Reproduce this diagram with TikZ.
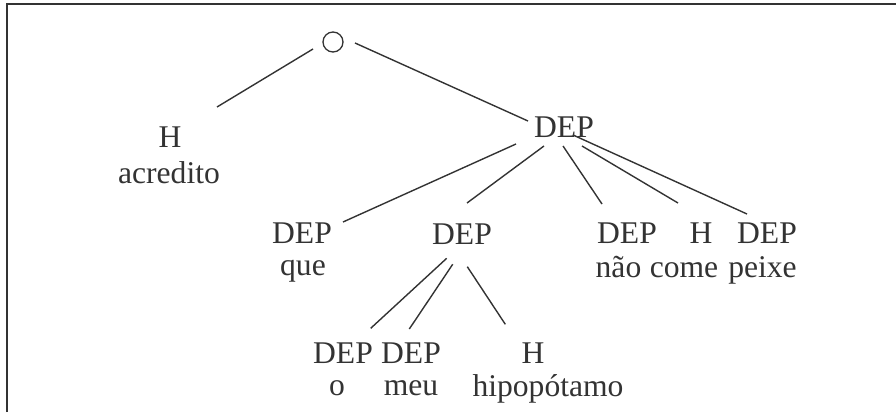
\documentclass[tikz,border=0pt]{standalone}
\usepackage{fontspec}
\setmainfont{Liberation Serif}
\definecolor{ink}{HTML}{333333}
\begin{document}
\begin{tikzpicture}[x=1pt,y=-1pt,
  lab/.style={inner sep=0pt,anchor=base,text=ink,font=\fontsize{31.6}{36}\selectfont},
  edge/.style={draw=ink,line width=1.4pt},
  frame/.style={draw=ink,line width=1.7pt}]
\useasboundingbox (0,0) rectangle (896,412);
% frame
\draw[frame] (6.7,412) -- (6.7,4) -- (896,4);
% root
\node[circle,inner sep=0pt,minimum size=20pt] (root) at (333,42) {};
\draw[ink,line width=1.3pt] (root.center) circle (10);
% labels
\node[lab] (h1) at (170,147) {H};
\node[lab] (acredito) at (169,183) {acredito};
\node[lab] (topdep) at (564,137) {DEP};
\node[lab] (depque) at (302,243) {DEP};
\node[lab] (que) at (303,275) {que};
\node[lab] (middep) at (462,244) {DEP};
\node[lab] (depnao) at (627,243) {DEP};
\node[lab] (hcome) at (701,243) {H};
\node[lab] (deppeixe) at (767,243) {DEP};
\node[lab] (nao) at (618.5,277) {não};
\node[lab] (come) at (684,277) {come};
\node[lab] (peixe) at (762.5,277) {peixe};
\node[lab] (depo) at (343,363) {DEP};
\node[lab] (depmeu) at (411,363) {DEP};
\node[lab] (hhipo) at (533,363) {H};
\node[lab] (o) at (337,395) {o};
\node[lab] (meu) at (411,395) {meu};
\node[lab] (hipo) at (548,396) {hipopótamo};
% connectors
\draw[edge] ([shift={(-20,7)}]root.center) -- ([shift={(47,-40)}]h1.base);
\draw[edge] ([shift={(22,1)}]root.center) -- ([shift={(-36,-16)}]topdep.base);
\draw[edge] ([shift={(-48,7)}]topdep.base) -- ([shift={(41,-21)}]depque.base);
\draw[edge] ([shift={(-20,9)}]topdep.base) -- ([shift={(5,-41)}]middep.base);
\draw[edge] ([shift={(-1,9)}]topdep.base) -- ([shift={(-25,-39)}]depnao.base);
\draw[edge] ([shift={(18,9)}]topdep.base) -- ([shift={(-23,-40)}]hcome.base);
\draw[edge] ([shift={(9,-2)}]topdep.base) -- ([shift={(-20,-29)}]deppeixe.base);
\draw[edge] ([shift={(-15.3,14.3)}]middep.base) -- ([shift={(27.7,-34.7)}]depo.base);
\draw[edge] ([shift={(-9.3,20.3)}]middep.base) -- ([shift={(-1.7,-34)}]depmeu.base);
\draw[edge] ([shift={(5.3,22.7)}]middep.base) -- ([shift={(-27.7,-38.7)}]hhipo.base);
\end{tikzpicture}
\end{document}
